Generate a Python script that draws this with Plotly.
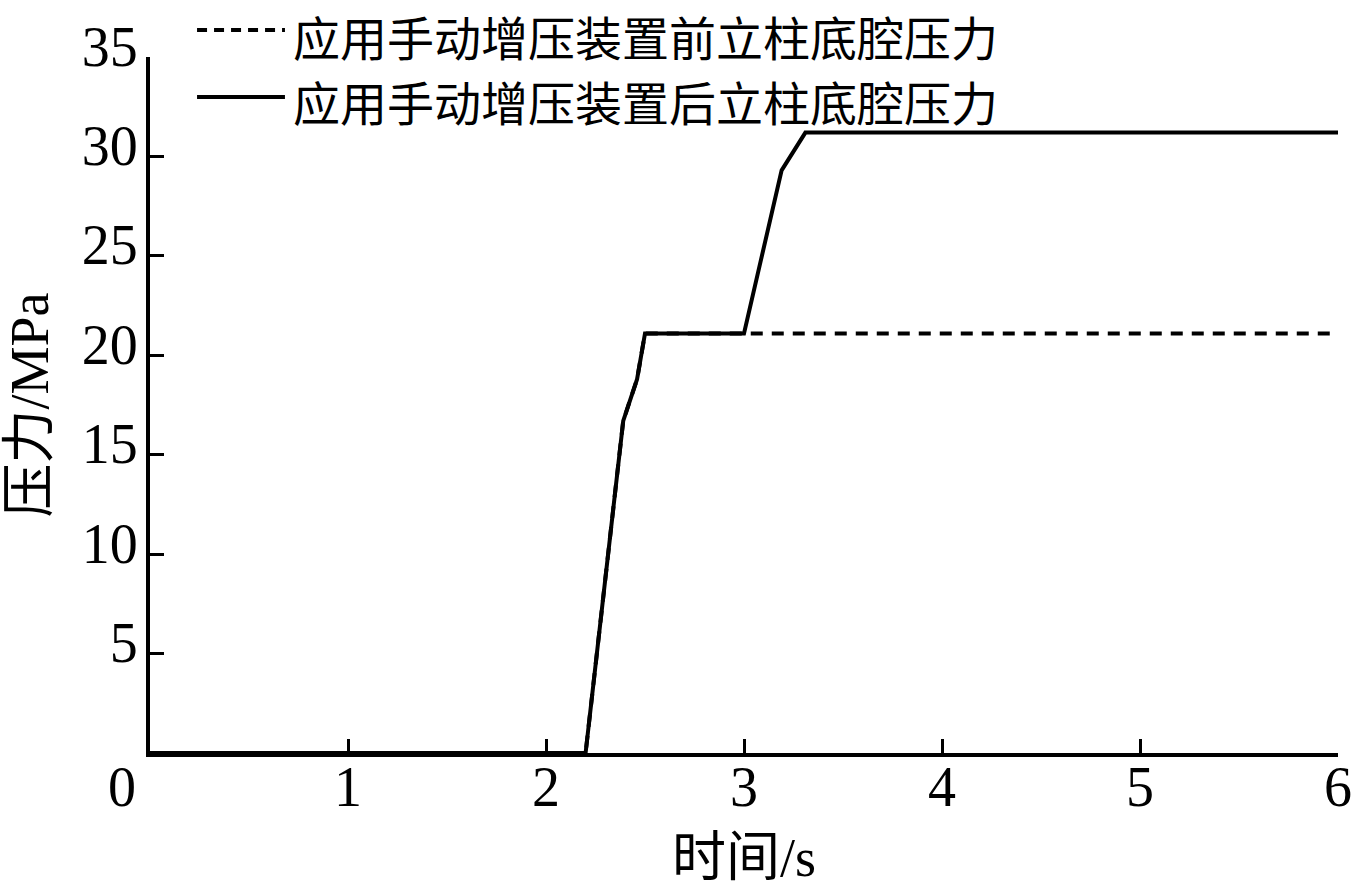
import plotly.graph_objects as go

# Data
time_before = [0, 2.2, 2.39, 2.46, 2.5, 3.0, 6.0]
pressure_before = [0, 0, 16.7, 18.8, 21.1, 21.1, 21.1]

time_after = [0, 1.6, 2.2, 2.39, 2.46, 2.5, 3.0, 3.19, 3.31, 6.0]
pressure_after = [0, 0, 0, 16.7, 18.8, 21.1, 21.1, 29.3, 31.2, 31.2]

name_before = "应用手动增压装置前立柱底腔压力"
name_after = "应用手动增压装置后立柱底腔压力"

x_ticks = [0, 1, 2, 3, 4, 5, 6]
x_ticktext = ["0\u00a0\u00a0\u00a0\u00a0", "1", "2", "3", "4", "5", "6"]
y_ticks = [5, 10, 15, 20, 25, 30, 35]

SERIF = "Liberation Serif, Times New Roman, serif"
CJK = "Noto Sans CJK SC"
MIXED = "Liberation Serif, Noto Sans CJK SC"

fig = go.Figure()
fig.add_trace(go.Scatter(x=time_after, y=pressure_after, mode="lines",
                         name=name_after,
                         line=dict(color="black", width=4), showlegend=False))
fig.add_trace(go.Scatter(x=time_before, y=pressure_before, mode="lines",
                         name=name_before,
                         line=dict(color="black", width=4, dash="12px,9px"),
                         showlegend=False))

# Manual legend (long line samples as in the reference)
legend_rows = [(name_before, "10px,7px", 1.0388, 1.0302),
               (name_after, "solid", 0.9425, 0.9368)]
for label, dash, yline, ytext in legend_rows:
    fig.add_shape(type="line", xref="paper", yref="paper",
                  x0=0.0396, x1=0.1136, y0=yline, y1=yline,
                  line=dict(color="black", width=4, dash=dash))
    fig.add_annotation(xref="paper", yref="paper", x=0.1195, y=ytext,
                       text=label, showarrow=False, xanchor="left",
                       yanchor="middle", borderpad=0,
                       font=dict(family=CJK, size=47, color="black"))

fig.update_layout(
    width=1354, height=894,
    margin=dict(l=150, r=16, t=57, b=141),
    paper_bgcolor="white", plot_bgcolor="white",
    font=dict(family=SERIF, color="black"),
    xaxis=dict(range=[0, 6], tickvals=x_ticks, ticktext=x_ticktext,
               automargin=False,
               ticks="inside", ticklen=14, tickwidth=3, tickcolor="black",
               showline=True, linecolor="black", linewidth=4,
               showgrid=False, zeroline=False,
               ticklabelstandoff=-18,
               tickfont=dict(family=SERIF, size=56, color="black"),
               title=dict(text="时间/s", font=dict(family=MIXED, size=54, color="black"),
                          standoff=22)),
    yaxis=dict(range=[0, 35], tickvals=y_ticks,
               automargin=False,
               ticks="inside", ticklen=14, tickwidth=3, tickcolor="black",
               showline=True, linecolor="black", linewidth=4,
               showgrid=False, zeroline=False,
               ticklabelstandoff=-3, ticklabelshift=-11,
               tickfont=dict(family=SERIF, size=56, color="black"),
               title=dict(text="压力/MPa", font=dict(family=MIXED, size=54, color="black"),
                          standoff=20)),
)

fig.write_html("out.html", config={"displayModeBar": False},
               post_script="document.body.style.margin='0';")
